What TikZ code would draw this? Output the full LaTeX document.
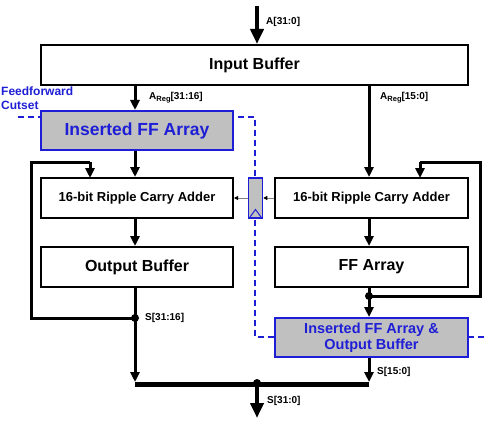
\documentclass[tikz,border=0pt]{standalone}
\usepackage{fontspec}
\setmainfont{Liberation Sans}
\usetikzlibrary{arrows.meta}
\definecolor{cutblue}{RGB}{30,30,215}
\definecolor{ffgray}{RGB}{192,192,192}
\begin{document}
\begin{tikzpicture}[x=1pt,y=-1pt,
  box/.style={draw=black, line width=2pt, fill=white, inner sep=0pt, minimum width=192pt, minimum height=40pt},
  insbox/.style={draw=cutblue, line width=2pt, fill=ffgray, inner sep=0pt, text=cutblue, minimum width=192pt, minimum height=39pt},
  bigtxt/.style={font=\fontsize{16}{19}\selectfont\bfseries},
  midtxt/.style={font=\fontsize{13}{15}\selectfont\bfseries},
  lbl/.style={font=\fontsize{10}{12}\selectfont\bfseries, inner sep=0pt, anchor=west},
  wire/.style={line width=3pt},
  arr/.style={line width=3pt, -{Triangle[length=10pt,width=9pt]}},
  bigarr/.style={line width=4pt, -{Triangle[length=15pt,width=13pt]}},
  thinarr/.style={line width=1pt, draw=gray, -{Triangle[length=4pt,width=4pt,fill=black,color=black]}},
  cutline/.style={draw=cutblue, line width=1.5pt, dash pattern=on 6pt off 4pt},
  dot/.style={circle, fill=black, inner sep=0pt, minimum size=8pt}
]
\useasboundingbox (0,0) rectangle (486,422);

% feedforward cutset (drawn first, boxes cover it)
\draw[cutline] (18,117) -- (255,117) -- (255,337) -- (486,337);
\node[font=\fontsize{12}{14}\selectfont\bfseries, text=cutblue, align=left, anchor=north west, inner sep=0pt] (cut) at (1,87) {Feedforward\\Cutset};

% nodes
\node[box, bigtxt, minimum width=427pt] (ib) at (254.5,65) {Input Buffer};
\node[insbox, font=\fontsize{17.5}{20}\selectfont\bfseries] (iff) at (137,130.5) {Inserted FF Array};
\node[box, midtxt] (la) at (137,198) {16-bit Ripple Carry Adder};
\node[box, midtxt, minimum width=193pt] (ra) at (371.5,198) {16-bit Ripple Carry Adder};
\node[box, bigtxt] (ob) at (137,267) {Output Buffer};
\node[box, bigtxt, minimum width=193pt] (ff) at (371.5,267) {FF Array};
\node[insbox, minimum width=193pt, align=center, font=\fontsize{14.5}{15.5}\selectfont\bfseries] (iob) at (371.5,337.5) {Inserted FF Array \&\\Output Buffer};
\node[draw=cutblue, line width=1.5pt, fill=ffgray, inner sep=0pt, minimum width=14pt, minimum height=40pt] (reg) at (255.5,198) {};
\draw[cutblue, line width=1pt] (250,217) -- (255.5,209.5) -- (261,217);

% coordinates
\coordinate (cl) at (135,0);
\coordinate (cr) at (369,0);
\coordinate (ain) at (257,6);
\coordinate (j1) at (135,318);
\coordinate (j2) at (369,296);
\coordinate (jb) at (257,383);
\coordinate (bl) at (135,384);
\coordinate (br) at (369,384);
\coordinate (sout) at (257,418);

% main connectors
\draw[bigarr] (ain) -- (ain |- ib.north);
\draw[arr] (cl |- ib.south) -- (cl |- iff.north);
\draw[arr] (cl |- iff.south) -- (cl |- la.north);
\draw[arr] (cl |- la.south) -- (cl |- ob.north);
\draw[arr] (cl |- ob.south) -- (135,382);
\draw[wire] (j1) -- (31,318) -- (31,162) -- (90,162);
\draw[arr] (90,162) -- (90,178);

\draw[arr] (cr |- ib.south) -- (cr |- ra.north);
\draw[arr] (cr |- ra.south) -- (cr |- ff.north);
\draw[wire] (cr |- ff.south) -- (j2);
\draw[arr] (j2) -- (cr |- iob.north);
\draw[wire] (j2) -- (480,296) -- (480,162) -- (420,162);
\draw[arr] (420,162) -- (420,178);
\draw[arr] (cr |- iob.south) -- (369,382);

\draw[line width=5pt] (bl) -- (br);
\draw[bigarr] (jb) -- (sout);

\node[dot] at (j1) {};
\node[dot] at (j2) {};
\node[dot] at (jb) {};

% carry through register
\draw[thinarr] (ra.west) -- (reg.east);
\draw[thinarr] (reg.west) -- (la.east);

% labels
\node[lbl] (la1) at (266,22) {A[31:0]};
\node[lbl] (la2) at (149,98) {A\raisebox{-0.35ex}{\fontsize{7.5}{8}\selectfont Reg}[31:16]};
\node[lbl] (la3) at (380,98) {A\raisebox{-0.35ex}{\fontsize{7.5}{8}\selectfont Reg}[15:0]};
\node[lbl] (la4) at (145,318) {S[31:16]};
\node[lbl] (la5) at (377,372) {S[15:0]};
\node[lbl] (la6) at (267,401) {S[31:0]};
\end{tikzpicture}
\end{document}
